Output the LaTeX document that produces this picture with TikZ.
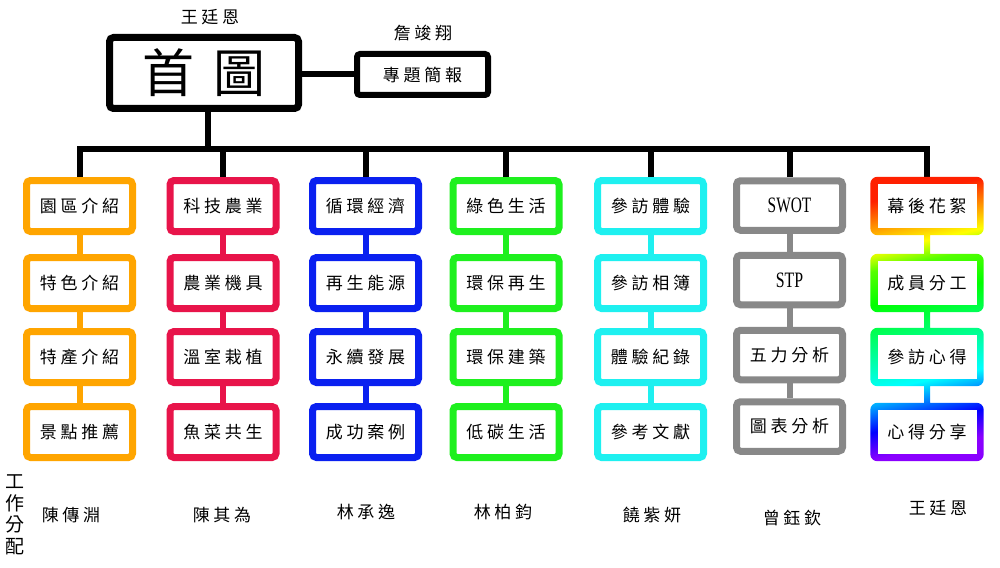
\documentclass[tikz,border=0pt]{standalone}
\usepackage{fontspec}
\usepackage{graphicx}
\newfontfamily\cjk[LetterSpace=22]{Noto Sans CJK TC}
\newfontfamily\cjkbig[LetterSpace=38]{Noto Sans CJK TC}
\newfontfamily\cjkplain{Noto Sans CJK TC}
\newfontfamily\serifl{Liberation Serif}
\usetikzlibrary{backgrounds,calc}
\definecolor{corange}{HTML}{FFA500}
\definecolor{cred}{HTML}{E8144A}
\definecolor{cblue}{HTML}{0A20F0}
\definecolor{cgreen}{HTML}{1EF01E}
\definecolor{ccyan}{HTML}{1EF0F0}
\definecolor{cgray}{HTML}{888888}
\definecolor{rvio}{HTML}{8A00FF}
\definecolor{rblu}{HTML}{0000FF}
\definecolor{rcya}{HTML}{00FFFF}
\definecolor{rspr}{HTML}{00FF66}
\definecolor{rgrn}{HTML}{00FF00}
\definecolor{rlim}{HTML}{55FF00}
\definecolor{ryel}{HTML}{FFFF00}
\definecolor{rred}{HTML}{FF2000}
\pgfdeclareverticalshading{rainbowcol}{100bp}{color(0bp)=(rvio); color(25bp)=(rvio); color(30.3bp)=(rblu); color(38.2bp)=(rcya); color(48.4bp)=(rspr); color(54.9bp)=(rgrn); color(61.4bp)=(rlim); color(65.3bp)=(ryel); color(75bp)=(rred); color(100bp)=(rred)}
\tikzset{
  box/.style={draw=#1, line width=7pt, rounded corners=4pt, fill=white,
    minimum width=106pt, minimum height=51pt, inner sep=0pt,
    font=\cjk\fontsize{17}{17}\selectfont},
  graybox/.style={box=cgray, minimum height=49.5pt},
  rbox/.style={draw=none, fill=white, minimum width=99pt, minimum height=44pt,
    inner sep=0pt, font=\cjk\fontsize{17}{17}\selectfont},
  link/.style={draw=#1, line width=6pt},
  bus/.style={draw=black, line width=6pt, line join=miter},
  person/.style={inner sep=0pt, font=\cjk\fontsize{17}{17}\selectfont},
}
\begin{document}
\begin{tikzpicture}[x=1pt,y=-1pt]
\useasboundingbox (0,0) rectangle (1000,567);
% main
\node[draw=black, line width=7pt, rounded corners=4pt, fill=white, minimum width=189pt,
  minimum height=71pt, inner sep=0pt, font=\cjkbig\fontsize{52}{52}\selectfont] (main) at (204,73) {首圖};
\node[draw=black, line width=6pt, rounded corners=3pt, fill=white, minimum width=131pt,
  minimum height=41pt, inner sep=0pt, font=\cjk\fontsize{17}{17}\selectfont] (brief) at (422.5,74.5) {專題簡報};
\node[person] (tmain) at (210,17) {王廷恩};
\node[person] (tbrief) at (423,33) {詹竣翔};
\coordinate (busy) at (0,149);
% column 1
\node[box=corange] (o1) at (79.5,206) {園區介紹};
\node[box=corange] (o2) at (79.5,283) {特色介紹};
\node[box=corange] (o3) at (79.5,357) {特產介紹};
\node[box=corange] (o4) at (79.5,432) {景點推薦};
% column 2
\node[box=cred] (d1) at (223,206) {科技農業};
\node[box=cred] (d2) at (223,283) {農業機具};
\node[box=cred] (d3) at (223,357) {溫室栽植};
\node[box=cred] (d4) at (223,432) {魚菜共生};
% column 3
\node[box=cblue] (b1) at (365.5,206) {循環經濟};
\node[box=cblue] (b2) at (365.5,283) {再生能源};
\node[box=cblue] (b3) at (365.5,357) {永續發展};
\node[box=cblue] (b4) at (365.5,432) {成功案例};
% column 4
\node[box=cgreen] (e1) at (506,206) {綠色生活};
\node[box=cgreen] (e2) at (506,283) {環保再生};
\node[box=cgreen] (e3) at (506,357) {環保建築};
\node[box=cgreen] (e4) at (506,432) {低碳生活};
% column 5
\node[box=ccyan] (c1) at (650.5,206) {參訪體驗};
\node[box=ccyan] (c2) at (650.5,283) {參訪相簿};
\node[box=ccyan] (c3) at (650.5,357) {體驗紀錄};
\node[box=ccyan] (c4) at (650.5,432) {參考文獻};
% column 6
\node[graybox] (g1) at (789.5,205.5) {\serifl\fontsize{22}{22}\selectfont\scalebox{0.7}[1]{SWOT}};
\node[graybox] (g2) at (789.5,280) {\serifl\fontsize{22}{22}\selectfont\scalebox{0.72}[1]{STP}};
\node[graybox] (g3) at (789.5,355) {五力分析};
\node[graybox] (g4) at (789.5,426.5) {圖表分析};
% column 7
\node[rbox] (r1) at (927,206) {幕後花絮};
\node[rbox] (r2) at (927,283) {成員分工};
\node[rbox] (r3) at (927,357) {參訪心得};
\node[rbox] (r4) at (927,432) {心得分享};
% names
\node[person] (n1) at (71,515) {陳傳淵};
\node[person] (n2) at (222,515) {陳其為};
\node[person] (n3) at (366,512) {林承逸};
\node[person] (n4) at (503,512) {林柏鈞};
\node[person] (n5) at (652,515) {饒紫妍};
\node[person] (n6) at (792,518) {曾鈺欽};
\node[person] (n7) at (938,508) {王廷恩};
\node[inner sep=0pt, align=center, font=\cjkplain\fontsize{19}{21.5}\selectfont] (work) at (15,515) {工\\作\\分\\配};
\begin{pgfonlayer}{background}
  \fill[white] (0,0) rectangle (1000,567);
  % connectors
  \draw[bus] (brief.west -| main.east) -- (brief.west);
  \draw[bus] ([xshift=4pt]main.south) -- ([xshift=4pt]main.south |- busy);
  \draw[bus] (o1.north) -- (o1.north |- busy) -- (r1.north |- busy) -- (r1.north);
  \foreach \n in {d1,b1,e1,c1,g1} \draw[bus] (\n.north) -- (\n.north |- busy);
  \draw[link=corange] (o1) -- (o2) -- (o3) -- (o4);
  \draw[link=cred] (d1) -- (d2) -- (d3) -- (d4);
  \draw[link=cblue] (b1) -- (b2) -- (b3) -- (b4);
  \draw[link=cgreen] (e1) -- (e2) -- (e3) -- (e4);
  \draw[link=ccyan] (c1) -- (c2) -- (c3) -- (c4);
  \draw[link=cgray] (g1) -- (g2) -- (g3) -- (g4);
  \shade[shading=rainbowcol, shading angle=12]
    [rounded corners=7pt]
    ($(r1.north west)+(-7,-7)$) rectangle ($(r1.south east)+(7,7)$)
    ($(r2.north west)+(-7,-7)$) rectangle ($(r2.south east)+(7,7)$)
    ($(r3.north west)+(-7,-7)$) rectangle ($(r3.south east)+(7,7)$)
    ($(r4.north west)+(-7,-7)$) rectangle ($(r4.south east)+(7,7)$)
    [sharp corners]
    ($(r1.south)+(-3,0)$) rectangle ($(r2.north)+(3,0)$)
    ($(r2.south)+(-3,0)$) rectangle ($(r3.north)+(3,0)$)
    ($(r3.south)+(-3,0)$) rectangle ($(r4.north)+(3,0)$);
\end{pgfonlayer}
\end{tikzpicture}
\end{document}
